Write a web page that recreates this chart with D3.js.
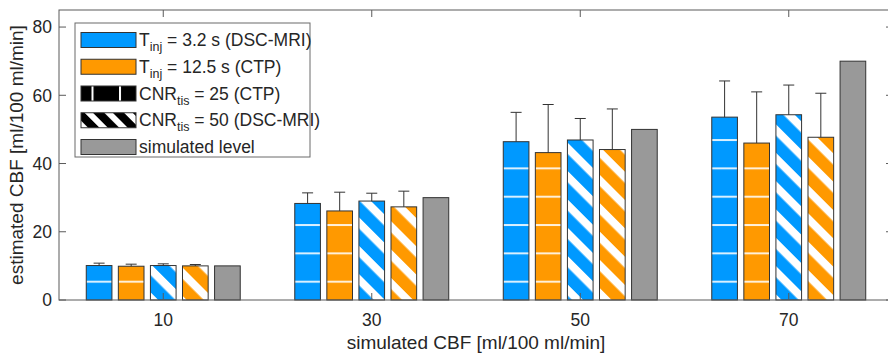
<!DOCTYPE html>
<html>
<head>
<meta charset="utf-8">
<script src="https://cdn.jsdelivr.net/npm/d3@7"></script>
<style>
  html, body { margin: 0; padding: 0; background: #fff; }
  svg { display: block; font-family: "Liberation Sans", Arial, sans-serif; }
</style>
</head>
<body>
<svg id="chart" width="888" height="354"></svg>
<script>
// categories on the x axis (simulated CBF)
const categories = ['10', '30', '50', '70'];
const yTicks = [0, 20, 40, 60, 80];

// estimated CBF per series
const blueLines = [10.1, 28.3, 46.4, 53.6];     // Tinj = 3.2 s, CNR 25
const orangeLines = [9.9, 26.1, 43.2, 46.0];    // Tinj = 12.5 s, CNR 25
const blueHatch = [10.1, 29.0, 46.9, 54.3];     // Tinj = 3.2 s, CNR 50
const orangeHatch = [10.0, 27.3, 44.1, 47.7];   // Tinj = 12.5 s, CNR 50
const simulated = [10, 30, 50, 70];

// upper error (std) per series
const blueLinesErr = [0.7, 3.1, 8.6, 10.6];
const orangeLinesErr = [0.6, 5.5, 14.1, 15.0];
const blueHatchErr = [0.5, 2.3, 6.3, 8.7];
const orangeHatchErr = [0.4, 4.6, 11.9, 12.9];

const COLORS = {
  blue: '#0099ff',
  orange: '#ff9900',
  gray: '#999999',
  edge: '#333333',
  axis: '#5a5a5a',
  text: '#262626'
};
const FONT = 17.5;

const series = [
  { values: blueLines, err: blueLinesErr, fill: 'url(#lines-blue)' },
  { values: orangeLines, err: orangeLinesErr, fill: 'url(#lines-orange)' },
  { values: blueHatch, err: blueHatchErr, fill: 'url(#hatch-blue)' },
  { values: orangeHatch, err: orangeHatchErr, fill: 'url(#hatch-orange)' },
  { values: simulated, err: null, fill: COLORS.gray }
];

const svg = d3.select('#chart');
const plot = { left: 59, right: 893, top: 10, bottom: 300 };

const x = d3.scaleLinear().domain([0.5, 4.5]).range([plot.left, plot.right]);
const y = d3.scaleLinear().domain([0, 85]).range([plot.bottom, plot.top]);

// grouped bar geometry (matlab style)
const groupWidth = 5 / 6.5;
const slot = groupWidth / 5;
const barW = slot * 0.8;

// patterns
const defs = svg.append('defs');
const period = 28.33;

function linePattern(id, color) {
  const p = defs.append('pattern')
    .attr('id', id)
    .attr('patternUnits', 'userSpaceOnUse')
    .attr('x', 0).attr('y', 281.7 - period * 10 - 1)
    .attr('width', 10).attr('height', period);
  p.append('rect').attr('width', 10).attr('height', period).attr('fill', color);
  p.append('rect').attr('x', 0).attr('y', 0).attr('width', 10).attr('height', 2)
    .attr('fill', '#ffffff').attr('opacity', 0.85);
}
function hatchPattern(id, color, size, white) {
  const p = defs.append('pattern')
    .attr('id', id)
    .attr('patternUnits', 'userSpaceOnUse')
    .attr('width', size).attr('height', size)
    .attr('patternTransform', 'rotate(45)');
  p.append('rect').attr('width', size).attr('height', size).attr('fill', color);
  p.append('rect').attr('y', 0).attr('width', size).attr('height', white).attr('fill', '#ffffff');
}
linePattern('lines-blue', COLORS.blue);
linePattern('lines-orange', COLORS.orange);
hatchPattern('hatch-blue', COLORS.blue, period / Math.SQRT2, 8);
hatchPattern('hatch-orange', COLORS.orange, period / Math.SQRT2, 8);
hatchPattern('hatch-black', '#000000', 14, 6);

const vlines = defs.append('pattern')
  .attr('id', 'vlines-black')
  .attr('patternUnits', 'userSpaceOnUse')
  .attr('x', 91.5).attr('y', 0)
  .attr('width', 27.5).attr('height', 10);
vlines.append('rect').attr('width', 27.5).attr('height', 10).attr('fill', '#000');
vlines.append('rect').attr('x', 0).attr('width', 2).attr('height', 10).attr('fill', '#fff');

// bars
const barsG = svg.append('g').attr('class', 'bars');
series.forEach((s, si) => {
  const off = (si - 2) * slot;
  barsG.selectAll(null)
    .data(s.values)
    .join('rect')
    .attr('x', (d, i) => x(i + 1 + off - barW / 2))
    .attr('width', x(barW) - x(0))
    .attr('y', d => y(d))
    .attr('height', d => y(0) - y(d))
    .attr('fill', s.fill)
    .attr('stroke', COLORS.edge)
    .attr('stroke-width', 1);
});

// error bars (upper only)
const errG = svg.append('g').attr('class', 'errors')
  .attr('stroke', COLORS.edge).attr('stroke-width', 1).attr('fill', 'none');
series.forEach((s, si) => {
  if (!s.err) return;
  const off = (si - 2) * slot;
  const pts = s.values.map((v, i) => ({ cx: x(i + 1 + off), v, e: s.err[i] }));
  errG.selectAll(null).data(pts).join('line')
    .attr('x1', d => d.cx).attr('x2', d => d.cx)
    .attr('y1', d => y(d.v)).attr('y2', d => y(d.v + d.e));
  errG.selectAll(null).data(pts).join('line')
    .attr('x1', d => d.cx - 5.5).attr('x2', d => d.cx + 5.5)
    .attr('y1', d => y(d.v + d.e)).attr('y2', d => y(d.v + d.e));
});

// axes box and ticks (drawn over the bars)
const axisG = svg.append('g').attr('class', 'axes');
axisG.append('rect')
  .attr('x', plot.left).attr('y', plot.top)
  .attr('width', plot.right - plot.left).attr('height', plot.bottom - plot.top)
  .attr('fill', 'none').attr('stroke', COLORS.axis).attr('stroke-width', 1);

const tickLen = 7;
const xTickPos = categories.map((c, i) => i + 1);
axisG.selectAll('line.xt-b').data(xTickPos).join('line')
  .attr('class', 'xt-b')
  .attr('x1', d => x(d)).attr('x2', d => x(d))
  .attr('y1', plot.bottom).attr('y2', plot.bottom - tickLen)
  .attr('stroke', COLORS.axis);
axisG.selectAll('line.xt-t').data(xTickPos).join('line')
  .attr('class', 'xt-t')
  .attr('x1', d => x(d)).attr('x2', d => x(d))
  .attr('y1', plot.top).attr('y2', plot.top + tickLen)
  .attr('stroke', COLORS.axis);
axisG.selectAll('line.yt-l').data(yTicks).join('line')
  .attr('class', 'yt-l')
  .attr('x1', plot.left).attr('x2', plot.left + tickLen)
  .attr('y1', d => y(d)).attr('y2', d => y(d))
  .attr('stroke', COLORS.axis);
axisG.selectAll('line.yt-r').data(yTicks).join('line')
  .attr('class', 'yt-r')
  .attr('x1', plot.right).attr('x2', plot.right - tickLen)
  .attr('y1', d => y(d)).attr('y2', d => y(d))
  .attr('stroke', COLORS.axis);

// tick labels
axisG.selectAll('text.xl').data(categories).join('text')
  .attr('class', 'xl')
  .attr('x', (d, i) => x(i + 1))
  .attr('y', 326)
  .attr('text-anchor', 'middle')
  .attr('font-size', FONT)
  .attr('fill', COLORS.text)
  .text(d => d);
axisG.selectAll('text.yl').data(yTicks).join('text')
  .attr('class', 'yl')
  .attr('x', 52)
  .attr('y', d => y(d) + 6.3)
  .attr('text-anchor', 'end')
  .attr('font-size', FONT)
  .attr('fill', COLORS.text)
  .text(d => d);

// axis labels
svg.append('text')
  .attr('x', (plot.left + plot.right) / 2)
  .attr('y', 349)
  .attr('text-anchor', 'middle')
  .attr('font-size', 19)
  .attr('fill', COLORS.text)
  .text('simulated CBF [ml/100 ml/min]');
svg.append('text')
  .attr('transform', `translate(23, ${(plot.top + plot.bottom) / 2}) rotate(-90)`)
  .attr('text-anchor', 'middle')
  .attr('font-size', 19)
  .attr('fill', COLORS.text)
  .text('estimated CBF [ml/100 ml/min]');

// legend
const legendItems = [
  { fill: COLORS.blue, main: 'T', sub: 'inj', rest: ' = 3.2 s (DSC-MRI)' },
  { fill: COLORS.orange, main: 'T', sub: 'inj', rest: ' = 12.5 s (CTP)' },
  { fill: 'url(#vlines-black)', main: 'CNR', sub: 'tis', rest: ' = 25 (CTP)' },
  { fill: 'url(#hatch-black)', main: 'CNR', sub: 'tis', rest: ' = 50 (DSC-MRI)' },
  { fill: COLORS.gray, main: 'simulated level', sub: null, rest: '' }
];
const legend = svg.append('g').attr('class', 'legend');
legend.append('rect')
  .attr('x', 75).attr('y', 23).attr('width', 235).attr('height', 134)
  .attr('fill', '#fff').attr('stroke', '#6a6a6a').attr('stroke-width', 1);
const rowY = d3.scaleLinear().domain([0, 4]).range([40, 147]);
legendItems.forEach((it, i) => {
  const cy = rowY(i);
  legend.append('rect')
    .attr('x', 81).attr('y', cy - 7.5).attr('width', 55).attr('height', 15)
    .attr('fill', it.fill).attr('stroke', COLORS.edge).attr('stroke-width', 1);
  const t = legend.append('text')
    .attr('x', 139).attr('y', cy + 6)
    .attr('font-size', FONT)
    .attr('fill', COLORS.text);
  t.append('tspan').text(it.main);
  if (it.sub) {
    t.append('tspan').attr('font-size', 12.5).attr('dy', 5).text(it.sub);
    t.append('tspan').attr('dy', -5).text(it.rest);
  }
});
</script>
</body>
</html>
